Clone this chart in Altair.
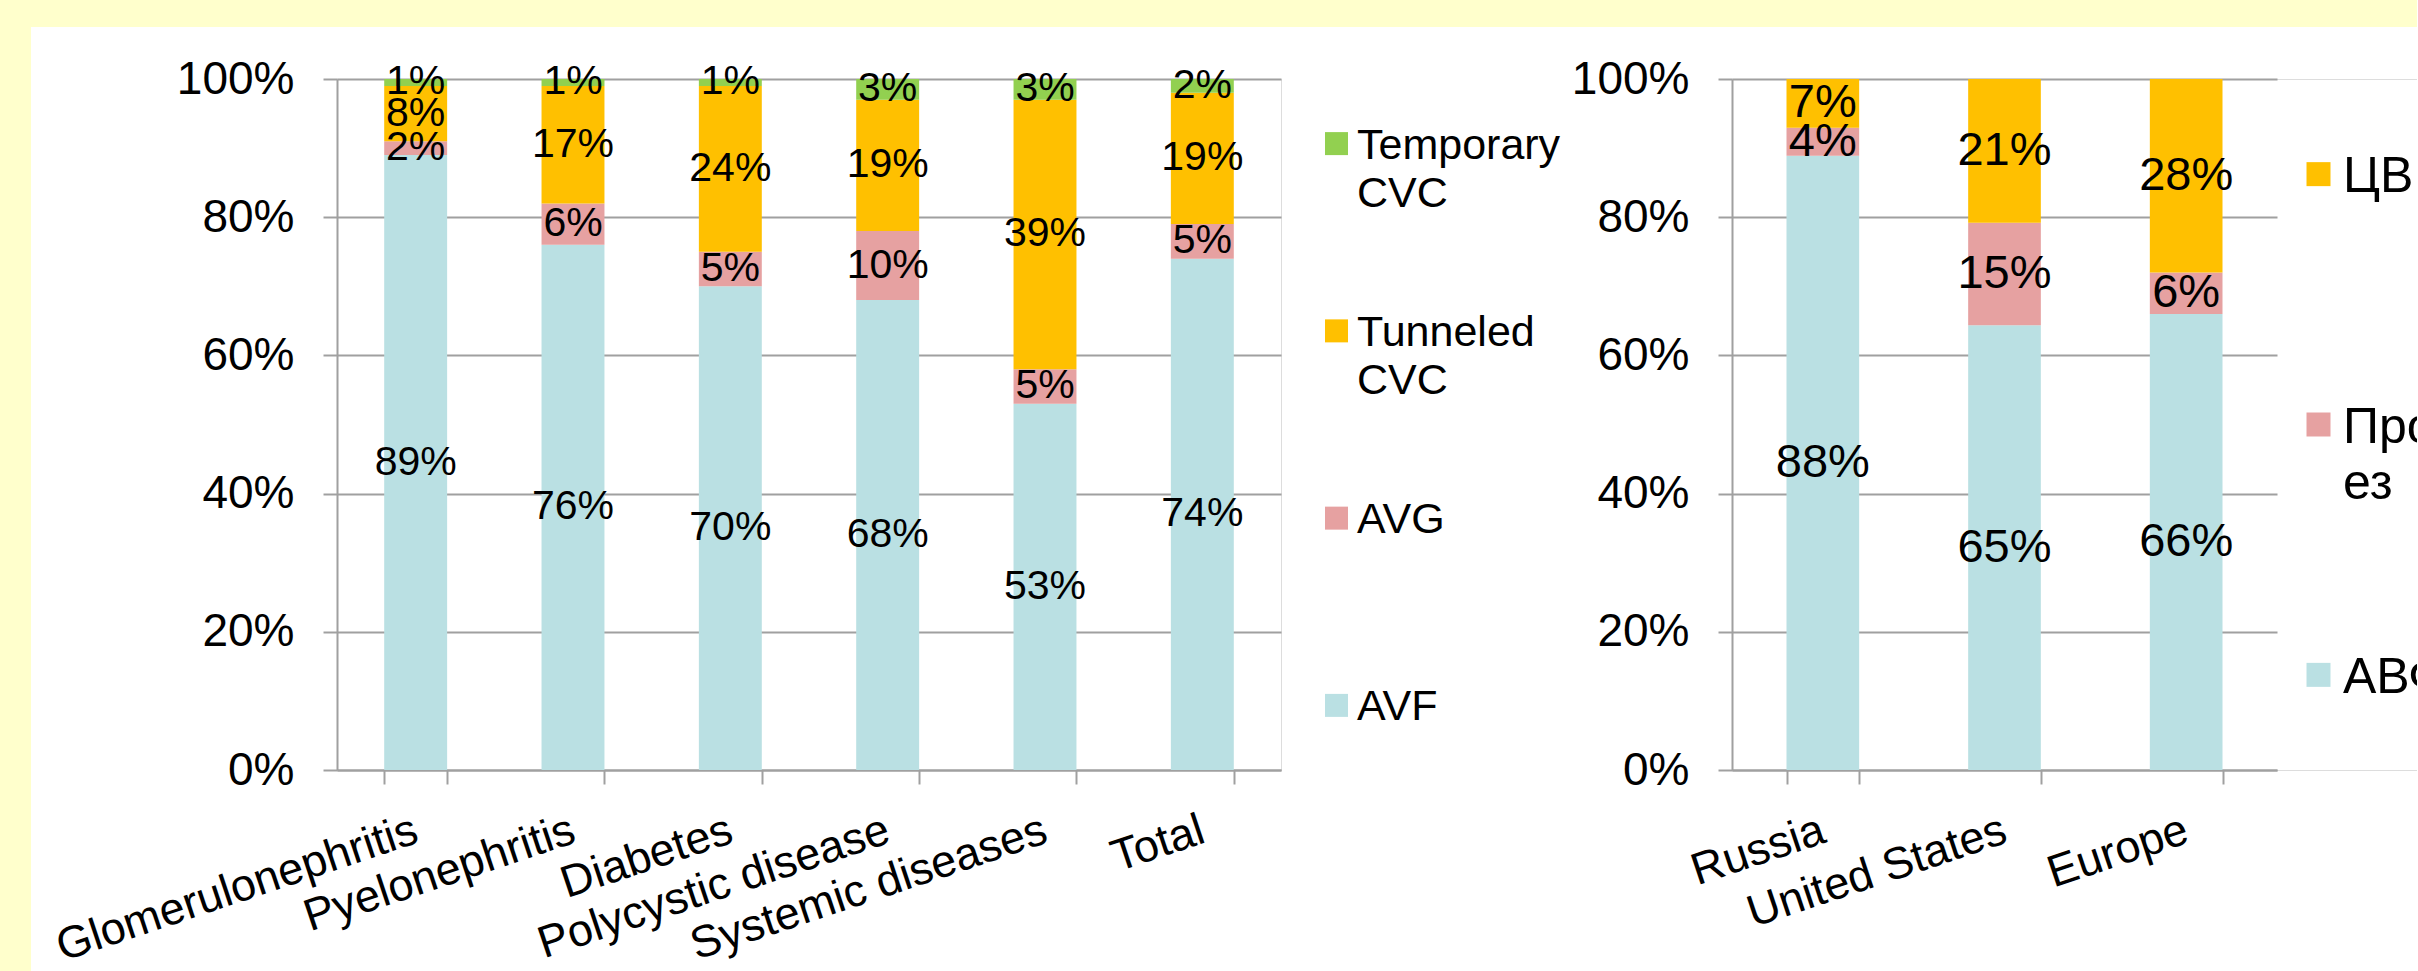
import altair as alt
import pandas as pd

FONT = "Liberation Sans"
YELLOW = "#FFFFCC"
GRID = "#A0A0A0"

# ---- Left panel: vascular access by primary kidney disease ----
diseases = ["Glomerulonephritis", "Pyelonephritis", "Diabetes",
            "Polycystic disease", "Systemic diseases", "Total"]
series_en = ["AVF", "AVG", "Tunneled CVC", "Temporary CVC"]          # stacked bottom -> top
colors_en = ["#BAE0E3", "#E6A1A1", "#FFC000", "#92D050"]
avf = [89, 76, 70, 68, 53, 74]
avg = [2, 6, 5, 10, 5, 5]
tunneled = [8, 17, 24, 19, 39, 19]
temporary = [1, 1, 1, 3, 3, 2]
legend_order_en = ["Temporary CVC", "Tunneled CVC", "AVG", "AVF"]   # legend top -> bottom
legend_text_en = ["Temporary\nCVC", "Tunneled\nCVC", "AVG", "AVF"]

# ---- Right panel: vascular access by region ----
regions = ["Russia", "United States", "Europe"]
series_ru = ["АВФ", "Протез", "ЦВК"]
colors_ru = ["#BAE0E3", "#E6A1A1", "#FFC000"]
avf_ru = [88, 65, 66]
graft_ru = [4, 15, 6]
cvc_ru = [7, 21, 28]
legend_order_ru = ["ЦВК", "Протез", "АВФ"]
legend_text_ru = ["ЦВК", "Прот\nез", "АВФ"]

y_ticks = [0, 0.2, 0.4, 0.6, 0.8, 1.0]


def long_table(cats, series, columns):
    rows = []
    for order, (name, vals) in enumerate(zip(series, columns)):
        for cat, v in zip(cats, vals):
            rows.append({"cat": cat, "series": name, "value": v, "order": order})
    return pd.DataFrame(rows)


def panel(cats, series, colors, columns, legend_order, legend_text,
          plot_width, height, label_size, legend_size, legend_lh, legend_pad,
          sq_size, sq_x, txt_x, view_width=None):
    """Normalized stacked columns with value labels and a hand-placed legend.

    If view_width is larger than plot_width, the bars keep plot_width and the
    extra room holds the legend, which is clipped at the view's right edge.
    """
    df = long_table(cats, series, columns)
    color = alt.Color("series:N", scale=alt.Scale(domain=series, range=colors), legend=None)
    xscale = alt.Scale(paddingInner=0.6, paddingOuter=0.3)
    if view_width:
        xscale = alt.Scale(paddingInner=0.6, paddingOuter=0.3, range=[0, plot_width])
    x = alt.X(
        "cat:N", sort=cats, title=None, scale=xscale,
        axis=alt.Axis(
            labelAngle=-18.5, labelAlign="right", labelBaseline="middle",
            labelPadding=44, labelFontSize=45, labelFont=FONT, labelColor="black",
            labelLimit=1000, labelOverlap=False, tickBand="extent", tickSize=14,
            tickColor=GRID, tickWidth=2, domainColor=GRID, domainWidth=2, grid=False,
        ),
    )
    yscale = alt.Scale(domain=[0, 1])
    base = alt.Chart(df).transform_stack(
        stack="value", groupby=["cat"], as_=["v0", "v1"],
        sort=[alt.SortField("order", order="ascending")], offset="normalize",
    ).transform_calculate(
        mid="(datum.v0 + datum.v1) / 2", label="datum.value + '%'"
    )
    bars = base.mark_bar(opacity=1).encode(
        x=x,
        y=alt.Y("v0:Q", scale=yscale, title=None, axis=alt.Axis(
            values=y_ticks, format=".0%", labelFontSize=46, labelFont=FONT,
            labelColor="black", labelPadding=29, tickSize=14, tickColor=GRID,
            tickWidth=2, domainColor=GRID, domainWidth=2, grid=True,
            gridColor=GRID, gridWidth=2,
        )),
        y2="v1:Q",
        color=color,
    )
    labels = base.mark_text(font=FONT, fontSize=label_size, color="black",
                            baseline="middle").encode(
        x=x, y=alt.Y("mid:Q", scale=yscale), text="label:N"
    )

    leg_df = pd.DataFrame({"series": legend_order, "label": legend_text})
    leg_y = alt.Y("series:N", sort=legend_order, axis=None,
                  scale=alt.Scale(type="point", domain=legend_order, padding=legend_pad))
    squares = alt.Chart(leg_df).mark_square(size=sq_size, opacity=1).encode(
        x=alt.value(sq_x), y=leg_y, color=color
    )
    texts = alt.Chart(leg_df).mark_text(
        font=FONT, fontSize=legend_size, lineBreak="\n", lineHeight=legend_lh,
        align="left", baseline="alphabetic", dy=round(0.358 * legend_size),
        color="black", clip=bool(view_width),
    ).encode(x=alt.value(txt_x), y=leg_y, text="label:N")

    return alt.layer(
        alt.layer(bars, labels), alt.layer(squares, texts)
    ).resolve_scale(y="independent").properties(
        width=view_width or plot_width, height=height
    )


left = panel(diseases, series_en, colors_en, [avf, avg, tunneled, temporary],
             legend_order_en, legend_text_en,
             plot_width=944, height=691, label_size=41, legend_size=43, legend_lh=48,
             legend_pad=0.345, sq_size=529, sq_x=999.5, txt_x=1020)

right = panel(regions, series_ru, colors_ru, [avf_ru, graft_ru, cvc_ru],
              legend_order_ru, legend_text_ru,
              plot_width=545, height=691, label_size=47, legend_size=50, legend_lh=56,
              legend_pad=0.38, sq_size=576, sq_x=586.5, txt_x=611, view_width=685)

blank = pd.DataFrame({"k": [0]})


def filler(w, h, fill):
    return alt.Chart(blank).mark_rect(opacity=0).encode(
        x=alt.value(0), x2=alt.value(0), y=alt.value(0), y2=alt.value(0)
    ).properties(width=w, height=h, view=alt.ViewBackground(fill=fill, strokeWidth=0))


charts = alt.hconcat(left, right, spacing=9).resolve_scale(
    x="independent", y="independent", color="independent"
)
body = alt.vconcat(filler(1, 1, "#FFFFFF"), charts, spacing=27)
row = alt.hconcat(filler(31, 944, YELLOW), body, spacing=19)

# The right legend is clipped at the page edge; a slightly negative right
# padding keeps the canvas from growing past the page width.
chart = alt.vconcat(filler(2418, 27, YELLOW), row, spacing=0).properties(
    padding={"left": 0, "top": 0, "right": -1, "bottom": 0}, background="white"
).configure_view(strokeWidth=0).configure(font=FONT)

chart.save("out.html", embed_options={"renderer": "svg", "actions": False})
